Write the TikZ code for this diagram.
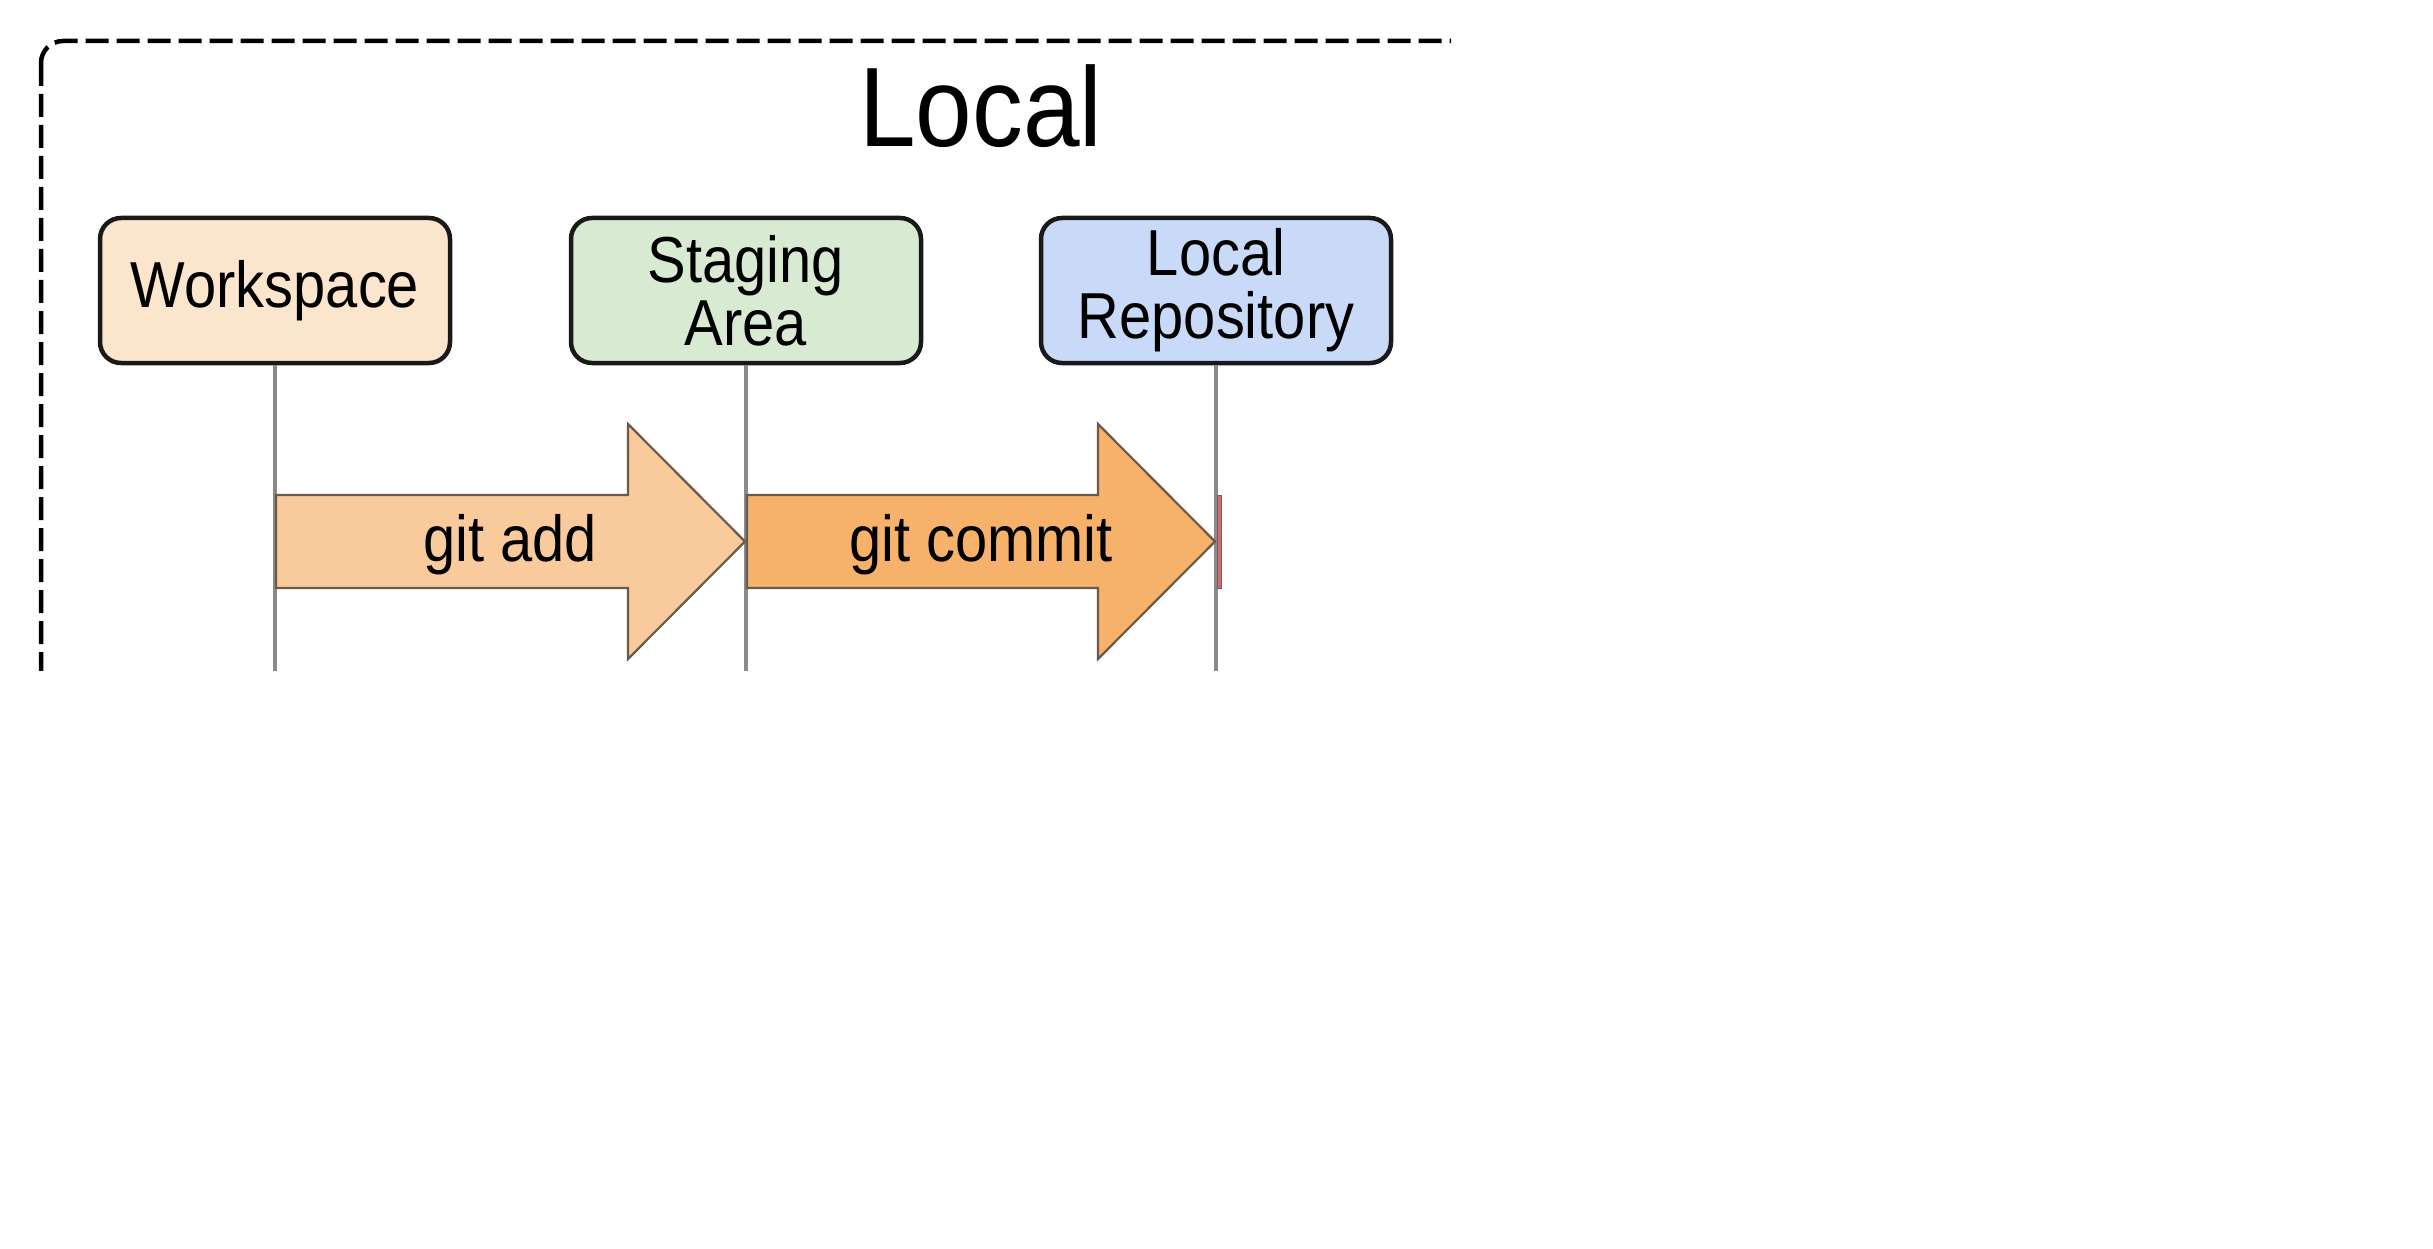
\documentclass[tikz,border=0pt]{standalone}
\usepackage{fontspec}
\setmainfont{Liberation Sans}
\usepackage{graphicx}
\definecolor{wsfill}{HTML}{FCE5CD}
\definecolor{safill}{HTML}{D9EAD3}
\definecolor{lrfill}{HTML}{C9DAF8}
\definecolor{addfill}{HTML}{F9CB9C}
\definecolor{comfill}{HTML}{F6B26B}
\definecolor{redfill}{HTML}{E06666}
\definecolor{lifegray}{HTML}{8A8A8A}
\definecolor{arrowedge}{HTML}{6A5A4A}
\newcommand\sqz[1]{\scalebox{0.89}[1]{#1}}
\begin{document}
\begin{tikzpicture}[x=1pt,y=-1pt,
  box/.style={draw=black!90, line width=4.5pt, rounded corners=21pt,
    minimum width=350pt, minimum height=145pt, inner sep=0pt,
    align=center, font=\fontsize{65}{63}\selectfont},
  life/.style={draw=lifegray, line width=3.2pt},
  arr/.style={draw=arrowedge, line width=2.2pt, line join=miter},
  lbl/.style={font=\fontsize{65}{63}\selectfont, inner sep=0pt},
  frame/.style={draw=black, line width=4.5pt, dash pattern=on 23pt off 8pt, rounded corners=22pt}
]
\fill[white] (0,0) rectangle (2433,1249);
\path[use as bounding box] (0,0) rectangle (2433,1249);
\begin{scope}
\clip (0,0) rectangle (1451,670);
\draw[frame] (41,41) rectangle (1800,1100);
\node[font=\fontsize{113}{120}\selectfont, anchor=base, inner sep=0pt] (title) at (981,147) {\scalebox{0.9}[1]{Local}};
\coordinate (bottom) at (0,680);
\node[box, fill=wsfill] (ws) at (275,290.5) {\sqz{Workspace}};
\node[box, fill=safill] (sa) at (746,290.5) {\sqz{Staging}\\\sqz{Area}};
\node[box, fill=lrfill] (lr) at (1216,290.5) {\sqz{Local}\\\sqz{Repository}};
\draw[life] (ws.south) -- (ws.south |- bottom);
\draw[life] (sa.south) -- (sa.south |- bottom);
\draw[life] (lr.south) -- (lr.south |- bottom);
\filldraw[arr, fill=addfill] (276,495) -- (628,495) -- (628,424) -- (745,541.5) -- (628,659) -- (628,588) -- (276,588) -- cycle;
\filldraw[arr, fill=comfill] (747,495) -- (1098,495) -- (1098,424) -- (1215,541.5) -- (1098,659) -- (1098,588) -- (747,588) -- cycle;
\filldraw[fill=redfill, draw=black!60, line width=0.8pt] (1217.5,495) rectangle (1221,588);
\node[lbl] (add) at (510,545) {\sqz{git add}};
\node[lbl] (commit) at (981,545) {\sqz{git commit}};
\end{scope}
\end{tikzpicture}
\end{document}
